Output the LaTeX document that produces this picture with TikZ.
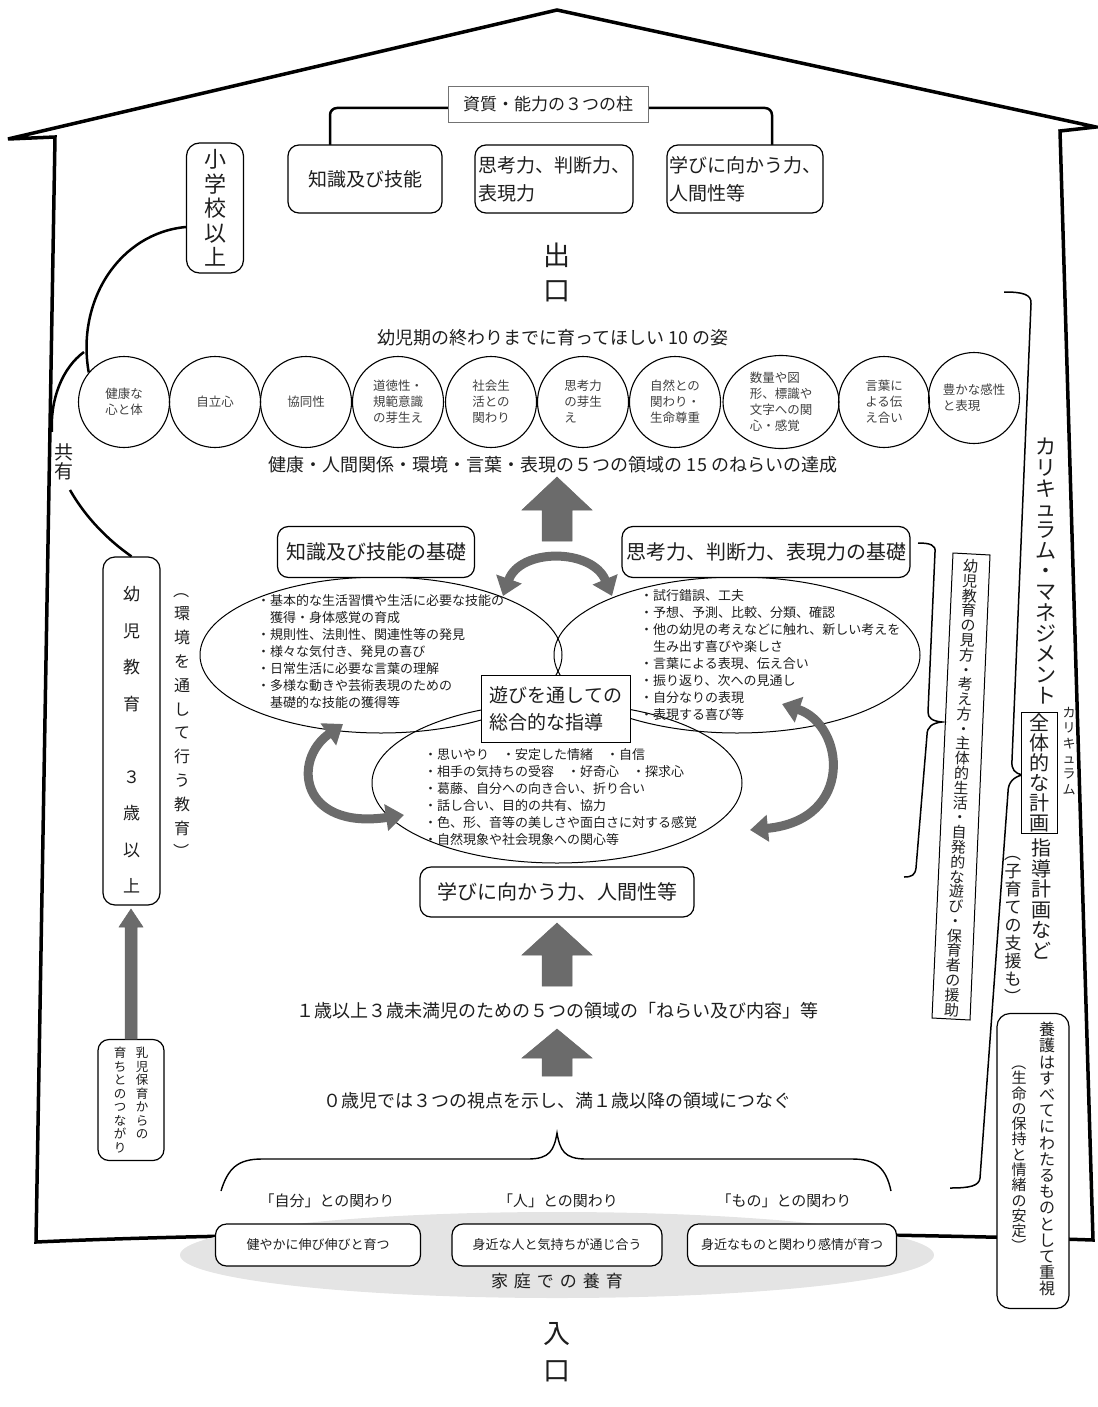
\documentclass[tikz,border=0pt]{standalone}
\usepackage{fontspec}
\usepackage{graphicx}
\setmainfont{Noto Sans CJK JP}
\usetikzlibrary{arrows.meta,shapes.geometric}
\definecolor{ag}{HTML}{6B6B6B}
\definecolor{tx}{HTML}{1E1E1E}
\definecolor{ctx}{HTML}{404040}
\definecolor{fg}{HTML}{E4E4E4}
\newcommand\fs[2]{\fontsize{#1}{#2}\selectfont}
\newcommand\vpar[1]{\rotatebox[origin=c]{-90}{#1}}
\begin{document}
\begin{tikzpicture}[x=1pt,y=-1pt,
  every node/.style={text=tx, inner sep=0pt},
  rbox/.style={draw=black, line width=1.2pt, rounded corners=11pt, fill=white, align=center},
  circ/.style={draw=black, line width=1.1pt, circle, minimum size=91pt, align=left, text=ctx, font=\fs{12.5}{16}},
  blk/.style={fill=ag, draw=black!60, line width=0.5pt},
  carr/.style={draw=ag, line width=9pt, {Triangle[width=26pt,length=18pt]}-{Triangle[width=26pt,length=18pt]}},
  eltx/.style={align=left, anchor=north west, font=\fs{13}{17}},
  vtx/.style={align=center}
]
\useasboundingbox (0,0) rectangle (1097,1407);

% house outline
\draw[line width=3.5pt, line join=miter] (55,137) -- (8,139) -- (557,10) -- (1096,127) -- (1060,131) -- (1093,1240)
  .. controls (800,1230) and (300,1230) .. (36,1242) -- cycle;

% ---- top: three pillars
\draw[line width=2.5pt, rounded corners=7pt] (330,146) -- (330,108) -- (772,108) -- (772,146);
\node[draw=black!55, line width=0.8pt, fill=white, minimum width=200pt, minimum height=36pt, font=\fs{17}{20}] (hashira) at (548,104) {資質・能力の３つの柱};
\node[rbox, minimum width=154pt, minimum height=68pt, font=\fs{19}{28}] (p1) at (365,179) {知識及び技能};
\node[rbox, minimum width=158pt, minimum height=68pt, font=\fs{19}{28}, align=left] (p2) at (554,179) {思考力、判断力、\\表現力};
\node[rbox, minimum width=156pt, minimum height=68pt, font=\fs{19}{28}, align=left] (p3) at (745,179) {学びに向かう力、\\人間性等};

% elementary school box
\node[rbox, rounded corners=13pt, minimum width=57pt, minimum height=130pt, font=\fs{22}{24.5}] (sho) at (215,208) {小\\学\\校\\以\\上};

% exit
\node[vtx, font=\fs{27}{35}] (deguchi) at (557,272) {出\\口};

% ---- 10 figures
\node[font=\fs{18}{20}] (ten) at (553,338) {幼児期の終わりまでに育ってほしい 10 の姿};
\node[circ] (c1) at (124,402) {健康な\\心と体};
\node[circ] (c2) at (215,402) {自立心};
\node[circ] (c3) at (306,402) {協同性};
\node[circ] (c4) at (398,402) {道徳性・\\規範意識\\の芽生え};
\node[circ] (c5) at (491,402) {社会生\\活との\\関わり};
\node[circ] (c6) at (583,402) {思考力\\の芽生\\え};
\node[circ] (c7) at (675,402) {自然との\\関わり・\\生命尊重};
\node[circ, ellipse, minimum width=116pt, minimum height=93pt] (c8) at (781,402) {数量や図\\形、標識や\\文字への関\\心・感覚};
\node[circ] (c9) at (884,402) {言葉に\\よる伝\\え合い};
\node[circ] (c10) at (974,398) {豊かな感性\\と表現};

\node[font=\fs{18}{20}] (five) at (553,465) {健康・人間関係・環境・言葉・表現の５つの領域の 15 のねらいの達成};

% left arcs
\draw[line width=2.5pt] ([yshift=-19pt]sho.west) .. controls (120,233) and (76,300) .. (c1.140);
\coordinate (j) at (84,352);
\coordinate (k1) at (52,432);
\coordinate (k2) at (70,490);
\draw[line width=2.5pt] (j) .. controls (62,368) and (50,400) .. (k1);
\node[vtx, font=\fs{19}{19.5}] (kyoyu) at (64,462) {共\\有};

% big arrow up
\node[minimum width=70pt, minimum height=63pt] (bigup) at (557,509) {};
\fill[blk] (542,541) -- (542,510) -- (522,510) -- (557,477) -- (592,510) -- (572,510) -- (572,541) -- cycle;

% ---- three qualities
\draw[line width=1pt] (381,655) ellipse [x radius=181pt, y radius=78pt];
\draw[line width=1pt] (737,655) ellipse [x radius=183pt, y radius=78pt];
\draw[line width=1pt] (557,783) ellipse [x radius=185pt, y radius=80pt];

\node[rbox, minimum width=197pt, minimum height=51pt, font=\fs{20}{22}] (kiso1) at (376,552) {知識及び技能の基礎};
\node[rbox, minimum width=288pt, minimum height=51pt, font=\fs{20}{22}] (kiso2) at (766,552) {思考力、判断力、表現力の基礎};

\node[eltx] (e1) at (257,594) {・基本的な生活習慣や生活に必要な技能の\\
\hphantom{・}獲得・身体感覚の育成\\
・規則性、法則性、関連性等の発見\\
・様々な気付き、発見の喜び\\
・日常生活に必要な言葉の理解\\
・多様な動きや芸術表現のための\\
\hphantom{・}基礎的な技能の獲得等};

\node[eltx] (e2) at (640,589) {・試行錯誤、工夫\\
・予想、予測、比較、分類、確認\\
・他の幼児の考えなどに触れ、新しい考えを\\
\hphantom{・}生み出す喜びや楽しさ\\
・言葉による表現、伝え合い\\
・振り返り、次への見通し\\
・自分なりの表現\\
・表現する喜び等};

\node[eltx] (e3) at (424,748) {・思いやり\quad ・安定した情緒\quad ・自信\\
・相手の気持ちの受容\quad ・好奇心\quad ・探求心\\
・葛藤、自分への向き合い、折り合い\\
・話し合い、目的の共有、協力\\
・色、形、音等の美しさや面白さに対する感覚\\
・自然現象や社会現象への関心等};

\node[draw=black, line width=1.1pt, fill=white, minimum width=149pt, minimum height=67pt, align=left, font=\fs{19}{27}] (asobi) at (556,709) {遊びを通しての\\総合的な指導};

% curved arrows
\draw[carr] (503,596) .. controls (520,548) and (592,548) .. (612,596);
\draw[carr] (343,724) .. controls (292,760) and (300,830) .. (404,815);
\draw[carr] (782,704) .. controls (845,725) and (855,820) .. (750,830);

\node[rbox, minimum width=274pt, minimum height=50pt, font=\fs{20}{22}] (manabi) at (557,892) {学びに向かう力、人間性等};

% lower arrows and texts
\fill[blk] (542,986) -- (542,955) -- (522,955) -- (557,923) -- (592,955) -- (572,955) -- (572,986) -- cycle;
\node[font=\fs{18}{20}] (one) at (557,1011) {１歳以上３歳未満児のための５つの領域の「ねらい及び内容」等};
\fill[blk] (542,1076) -- (542,1058) -- (522,1058) -- (557,1029) -- (592,1058) -- (572,1058) -- (572,1076) -- cycle;
\node[font=\fs{18}{20}] (zero) at (557,1101) {０歳児では３つの視点を示し、満１歳以降の領域につなぐ};

% brace
\draw[line width=1.4pt] (221,1191) .. controls (228,1168) and (238,1159) .. (262,1159) -- (528,1159)
  .. controls (550,1159) and (554,1150) .. (557,1133) .. controls (560,1150) and (564,1159) .. (586,1159)
  -- (852,1159) .. controls (876,1159) and (886,1168) .. (891,1191);

\node[font=\fs{15}{17}] (l1) at (327,1201) {「自分」との関わり};
\node[font=\fs{15}{17}] (l2) at (558,1201) {「人」との関わり};
\node[font=\fs{15}{17}] (l3) at (784,1201) {「もの」との関わり};

\fill[fg] (557,1255) ellipse [x radius=377pt, y radius=43pt];
\node[rbox, minimum width=205pt, minimum height=42pt, font=\fs{13}{15}] (b1) at (318,1245) {健やかに伸び伸びと育つ};
\node[rbox, minimum width=210pt, minimum height=42pt, font=\fs{13}{15}] (b2) at (557,1245) {身近な人と気持ちが通じ合う};
\node[rbox, minimum width=209pt, minimum height=42pt, font=\fs{13}{15}] (b3) at (792,1245) {身近なものと関わり感情が育つ};
\node[font=\fs{17}{19}] (katei) at (557,1281) {家\hspace{6pt}庭\hspace{6pt}で\hspace{6pt}の\hspace{6pt}養\hspace{6pt}育};

% entrance
\node[vtx, font=\fs{27}{37}] (iriguchi) at (557,1352) {入\\口};

% ---- left column
\node[rbox, rounded corners=12pt, minimum width=57pt, minimum height=348pt] (yo) at (131.5,731) {};
\node[vtx, font=\fs{17}{36.5}] (yotx) at (131.5,740) {幼\\児\\教\\育\\[36.5pt]３\\歳\\以\\上};
\draw[line width=2.5pt] (k2) .. controls (86,518) and (108,540) .. (yo.north);
\node[vtx, font=\fs{16}{23.8}] (kankyo) at (182,721) {\vpar{（}\\環\\境\\を\\通\\し\\て\\行\\う\\教\\育\\\vpar{）}};

\node[rbox, rounded corners=11pt, minimum width=66pt, minimum height=121pt] (nyu) at (131,1100) {};
\node[vtx, font=\fs{12.5}{13.5}, anchor=north] (nyu1) at (142,1047) {乳\\児\\保\\育\\か\\ら\\の};
\node[vtx, font=\fs{12.5}{13.5}, anchor=north] (nyu2) at (120,1047) {育\\ち\\と\\の\\つ\\な\\が\\り};
\fill[blk] (125,1039) -- (125,927) -- (119,927) -- (131,909) -- (143,927) -- (137,927) -- (137,1039) -- cycle;

% ---- right column
\draw[line width=1.5pt] (1004,292) .. controls (1022,292) and (1032,294) .. (1031,304) -- (1012,760)
  .. controls (1011,770) and (1015,773) .. (1022,775) .. controls (1014,777) and (1008,782) .. (1008,792)
  -- (980,1178) .. controls (979,1186) and (970,1188) .. (950,1188);
\node[vtx, font=\fs{21}{20.7}] (curman) at (1046,571) {カ\\リ\\キ\\ュ\\ラ\\ム\\・\\マ\\ネ\\ジ\\メ\\ン\\ト};
\node[draw=black, line width=1pt, minimum width=36pt, minimum height=121pt, fill=white] (zentai) at (1039.5,772.5) {};
\node[vtx, font=\fs{20}{20}] (zentaitx) at (1039.5,772.5) {全\\体\\的\\な\\計\\画};
\node[vtx, font=\fs{13}{15.3}] (curi) at (1069,751) {カ\\リ\\キ\\ュ\\ラ\\ム};
\node[vtx, font=\fs{20}{20.5}] (shido) at (1041,899) {指\\導\\計\\画\\な\\ど};
\node[vtx, font=\fs{17}{18}] (kosodate) at (1013,925) {\vpar{（}\\子\\育\\て\\の\\支\\援\\も\\\vpar{）}};

\node[rbox, rounded corners=13pt, minimum width=72pt, minimum height=295pt] (yogo) at (1033,1161) {};
\node[vtx, font=\fs{16}{16.2}, anchor=north] (yogo1) at (1047,1022) {養\\護\\は\\す\\べ\\て\\に\\わ\\た\\る\\も\\の\\と\\し\\て\\重\\視};
\node[vtx, font=\fs{15}{15.3}, anchor=north] (yogo2) at (1019,1055) {\vpar{（}\\生\\命\\の\\保\\持\\と\\情\\緒\\の\\安\\定\\\vpar{）}};

% middle bracket and slanted box
\draw[line width=1.5pt] (918,543) .. controls (930,543) and (936,545) .. (935,552) -- (928,712)
  .. controls (928,718) and (932,721) .. (942,722) .. controls (932,723) and (927,727) .. (927,735)
  -- (916,868) .. controls (915,875) and (912,877) .. (904,877);
\draw[line width=1pt] (953,553) -- (990,555) -- (970,1020) -- (932,1018) -- cycle;
\node[vtx, font=\fs{15}{14.8}, rotate=-2.46] (mikata) at (961,788) {幼\\児\\教\\育\\の\\見\\方\\・\\考\\え\\方\\・\\主\\体\\的\\生\\活\\・\\自\\発\\的\\な\\遊\\び\\・\\保\\育\\者\\の\\援\\助};

\end{tikzpicture}
\end{document}
